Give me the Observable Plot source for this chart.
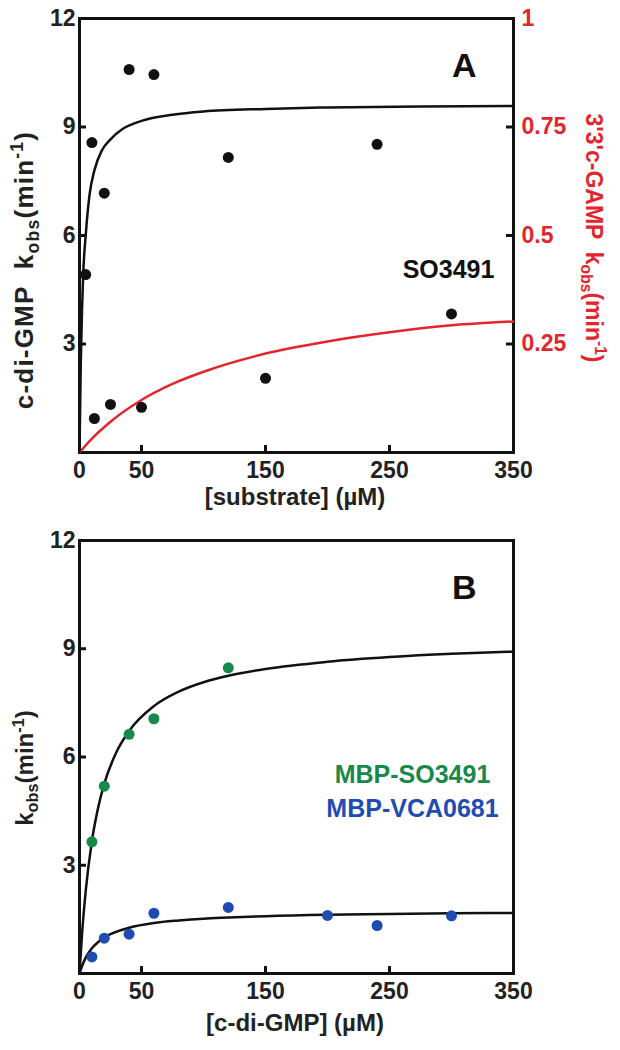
<!DOCTYPE html>
<html><head><meta charset="utf-8">
<script src="https://cdn.jsdelivr.net/npm/d3@7"></script>
<script src="https://cdn.jsdelivr.net/npm/@observablehq/plot@0.6"></script>
<style>
body{margin:0;background:#fff;}
#chart{width:620px;}
#chart svg{display:block;}
</style>
</head><body><div id="chart"></div>
<script>
// ---- tick values ----
const xTicks = [0, 50, 150, 250, 350];
const xInnerTicks = [50, 150, 250];
const yTicks = [3, 6, 9, 12];
const yInnerTicks = [3, 6, 9];
const rightTicks = [0.25, 0.5, 0.75, 1];   // 3'3'c-GAMP axis (right, panel A)
const rightFull = 1;                        // right axis top value
const leftFull = 12;                        // left axis top value

// ---- Panel A: c-di-GMP kobs points ----
const aGmpX = [5, 10, 20, 40, 60, 120, 240];
const aGmpY = [4.92, 8.57, 7.17, 10.59, 10.45, 8.16, 8.52];
// ---- Panel A: lower points ----
const aLowX = [12, 25, 50, 150, 300];
const aLowY = [0.94, 1.33, 1.25, 2.05, 3.83];
// ---- Panel A: black fitted curve ----
const aFitX = [0, 1, 2, 3, 5, 8, 12, 18, 25, 35, 50, 75, 100, 150, 200, 275, 350];
const aFitY = [0, 2.4, 3.9, 4.95, 6.0, 7.1, 7.8, 8.35, 8.66, 8.95, 9.17, 9.34, 9.43, 9.5, 9.54, 9.57, 9.58];
// ---- Panel A: red fitted curve (right axis units) ----
const aRedX = [0, 10, 25, 50, 75, 100, 150, 200, 250, 300, 350];
const aRedY = [0, 0.032, 0.071, 0.121, 0.158, 0.186, 0.228, 0.256, 0.277, 0.293, 0.302];

// ---- Panel B: MBP-SO3491 (green) ----
const bSoX = [10, 20, 40, 60, 120];
const bSoY = [3.65, 5.19, 6.63, 7.06, 8.47];
// ---- Panel B: MBP-VCA0681 (blue) ----
const bVcX = [10, 20, 40, 60, 120, 200, 240, 300];
const bVcY = [0.46, 0.98, 1.09, 1.67, 1.83, 1.61, 1.33, 1.60];
// ---- Panel B fitted curves ----
const bFitX = [0, 2, 5, 10, 15, 20, 30, 40, 60, 80, 100, 120, 150, 200, 250, 300, 350];
const bSoFitY = [0, 1.07, 2.28, 3.67, 4.59, 5.26, 6.15, 6.72, 7.41, 7.81, 8.07, 8.25, 8.44, 8.64, 8.77, 8.86, 8.92];
const bVcFitY = [0, 0.2, 0.44, 0.7, 0.87, 1.0, 1.16, 1.27, 1.4, 1.47, 1.52, 1.55, 1.59, 1.63, 1.65, 1.67, 1.68];

const zip = (xs, ys) => xs.map((x, i) => ({x, y: ys[i]}));

const FONT = "Liberation Sans, Arial, Helvetica, sans-serif";
const RED = "#e3262d", GREEN = "#17894a", BLUE = "#1f4cb3";
const W = 620, H = 525;

function baseAxes(innerH, withRight) {
  const innerW = 434;
  const m = [
    Plot.frame({stroke: "#111", strokeWidth: 3}),
    Plot.tickX(xInnerTicks, {x: d => d, insetTop: innerH - 7, stroke: "#111", strokeWidth: 3}),
    Plot.tickY(yInnerTicks, {y: d => d, insetRight: innerW - 7, stroke: "#111", strokeWidth: 3}),
    Plot.axisX(xTicks, {tickSize: 0, tickPadding: 9, fontSize: 23, fontWeight: "bold", fill: "#222", label: null}),
    Plot.axisY(yTicks, {tickSize: 0, tickPadding: 4, fontSize: 23, fontWeight: "bold", fill: "#222", label: null})
  ];
  if (withRight) {
    m.push(Plot.tickY(yInnerTicks, {y: d => d, insetLeft: innerW - 7, stroke: "#111", strokeWidth: 3}));
    m.push(Plot.axisY(rightTicks.map(v => v * leftFull / rightFull), {
      anchor: "right", tickSize: 0, tickPadding: 8, fontSize: 23, fontWeight: "bold",
      fill: RED, label: null, tickFormat: d => String(+(d * rightFull / leftFull).toFixed(2))
    }));
  }
  return m;
}

// ---------- Panel A ----------
const plotA = Plot.plot({
  width: W, height: H,
  marginLeft: 79, marginRight: 107, marginTop: 18, marginBottom: 73,
  x: {domain: [0, 350]},
  y: {domain: [0, 12]},
  style: {fontFamily: FONT, background: "white"},
  marks: [
    ...baseAxes(434, true),
    Plot.line(zip(aRedX, aRedY), {x: "x", y: d => d.y * leftFull / rightFull, stroke: RED, strokeWidth: 2.5, curve: "monotone-x"}),
    Plot.line(zip(aFitX, aFitY), {x: "x", y: "y", stroke: "#111", strokeWidth: 2.5, curve: "monotone-x"}),
    Plot.dot(zip(aGmpX, aGmpY), {x: "x", y: "y", r: 5.5, fill: "#111"}),
    Plot.dot(zip(aLowX, aLowY), {x: "x", y: "y", r: 5.5, fill: "#111"}),
    Plot.text(["A"], {frameAnchor: "top-right", dx: -37, dy: 34, text: d => d, fontSize: 34, fontWeight: "bold", fill: "#111"}),
    Plot.text(["SO3491"], {frameAnchor: "top-right", dx: -65, dy: 242, text: d => d, textAnchor: "middle", fontSize: 25, fontWeight: "bold", fill: "#111"})
  ]
});

// ---------- Panel B ----------
const plotB = Plot.plot({
  width: W, height: H,
  marginLeft: 79, marginRight: 107, marginTop: 15, marginBottom: 77,
  x: {domain: [0, 350]},
  y: {domain: [0, 12]},
  style: {fontFamily: FONT, background: "white"},
  marks: [
    ...baseAxes(433, false),
    Plot.line(zip(bFitX, bSoFitY), {x: "x", y: "y", stroke: "#111", strokeWidth: 2.5, curve: "monotone-x"}),
    Plot.line(zip(bFitX, bVcFitY), {x: "x", y: "y", stroke: "#111", strokeWidth: 2.5, curve: "monotone-x"}),
    Plot.dot(zip(bSoX, bSoY), {x: "x", y: "y", r: 5.5, fill: GREEN}),
    Plot.dot(zip(bVcX, bVcY), {x: "x", y: "y", r: 5.5, fill: BLUE}),
    Plot.text(["B"], {frameAnchor: "top-right", dx: -37, dy: 34, text: d => d, fontSize: 34, fontWeight: "bold", fill: "#111"}),
    Plot.text(["MBP-SO3491"], {frameAnchor: "top-right", dx: -101, dy: 225, text: d => d, textAnchor: "middle", fontSize: 25, fontWeight: "bold", fill: GREEN}),
    Plot.text(["MBP-VCA0681"], {frameAnchor: "top-right", dx: -101, dy: 259, text: d => d, textAnchor: "middle", fontSize: 25, fontWeight: "bold", fill: BLUE})
  ]
});

// ---- rich-text titles (subscript / superscript) ----
function richTitle(svg, {x, y, rotate, size, color, parts, anchor = "middle", spacing = 0}) {
  const t = d3.select(svg).append("text")
    .attr("transform", `translate(${x},${y}) rotate(${rotate})`)
    .attr("text-anchor", anchor)
    .attr("font-family", FONT)
    .attr("font-weight", "bold")
    .attr("font-size", size)
    .attr("fill", color)
    .attr("letter-spacing", spacing)
    .style("white-space", "pre");
  let shift = 0;
  for (const p of parts) {
    const target = p.kind === "sub" ? size * 0.22 : p.kind === "sup" ? -size * 0.38 : 0;
    const ts = t.append("tspan").text(p.s).attr("dy", target - shift);
    if (p.kind) ts.attr("font-size", size * 0.68);
    shift = target;
  }
}

function titleParts(prefix) {
  return [
    {s: prefix + "k"}, {s: "obs", kind: "sub"}, {s: "(min"}, {s: "-1", kind: "sup"}, {s: ")"}
  ];
}

richTitle(plotA, {x: 33, y: 270, rotate: -90, size: 26, color: "#222", parts: titleParts("c-di-GMP  "), spacing: 1.2});
richTitle(plotA, {x: 586, y: 238, rotate: 90, size: 23, color: RED, parts: titleParts("3'3'c-GAMP  ")});
richTitle(plotA, {x: 295, y: 505, rotate: 0, size: 24, color: "#222", parts: [{s: "[substrate] (µM)"}]});

richTitle(plotB, {x: 33, y: 243, rotate: -90, size: 24, color: "#222", parts: titleParts("")});
richTitle(plotB, {x: 295, y: 506, rotate: 0, size: 24, color: "#222", parts: [{s: "[c-di-GMP] (µM)"}]});

document.getElementById("chart").append(plotA, plotB);
</script>
</body></html>
